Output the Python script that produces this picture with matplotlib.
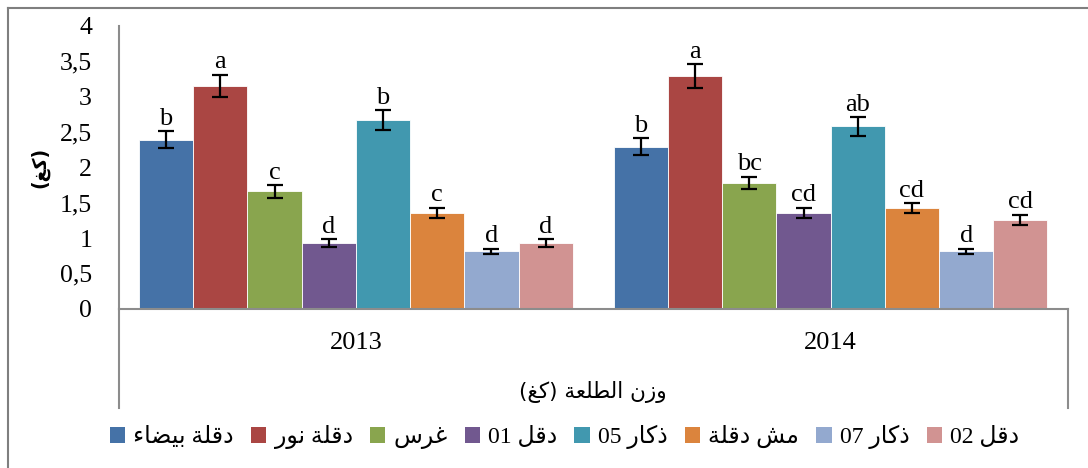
import re
import numpy as np
import matplotlib
matplotlib.use("Agg")
import matplotlib.pyplot as plt
from matplotlib.patches import Patch
from matplotlib.lines import Line2D

# ---------------- data ----------------
years = ["2013", "2014"]
varieties = ["دقلة بيضاء", "دقلة نور", "غرس", "دقل 01", "ذكار 05", "مش دقلة", "ذكار 07", "دقل 02"]
colors = ["#4572A7", "#AA4643", "#89A54E", "#71588F", "#4198AF", "#DB843D", "#93A9CF", "#D19392"]

vals_2013 = [2.39, 3.15, 1.66, 0.93, 2.67, 1.36, 0.81, 0.93]
vals_2014 = [2.29, 3.29, 1.78, 1.36, 2.58, 1.42, 0.81, 1.26]
err_2013 = [0.12, 0.16, 0.09, 0.05, 0.14, 0.07, 0.04, 0.05]
err_2014 = [0.12, 0.17, 0.09, 0.07, 0.13, 0.07, 0.04, 0.07]
letters_2013 = ["b", "a", "c", "d", "b", "c", "d", "d"]
letters_2014 = ["b", "a", "bc", "cd", "ab", "cd", "d", "cd"]

y_ticks = [0, 0.5, 1, 1.5, 2, 2.5, 3, 3.5, 4]
x_title = "وزن الطلعة (كغ)"
y_title = "(كغ)"

# ---------------- Arabic shaping (presentation forms + RTL order) ----------------
FORMS = {
    '\u0621': ('\uFE80', None, None, None),
    '\u0627': ('\uFE8D', '\uFE8E', None, None),
    '\u0628': ('\uFE8F', '\uFE90', '\uFE91', '\uFE92'),
    '\u0629': ('\uFE93', '\uFE94', None, None),
    '\u062F': ('\uFEA9', '\uFEAA', None, None),
    '\u0630': ('\uFEAB', '\uFEAC', None, None),
    '\u0631': ('\uFEAD', '\uFEAE', None, None),
    '\u0632': ('\uFEAF', '\uFEB0', None, None),
    '\u0633': ('\uFEB1', '\uFEB2', '\uFEB3', '\uFEB4'),
    '\u0634': ('\uFEB5', '\uFEB6', '\uFEB7', '\uFEB8'),
    '\u0636': ('\uFEBD', '\uFEBE', '\uFEBF', '\uFEC0'),
    '\u0637': ('\uFEC1', '\uFEC2', '\uFEC3', '\uFEC4'),
    '\u0639': ('\uFEC9', '\uFECA', '\uFECB', '\uFECC'),
    '\u063A': ('\uFECD', '\uFECE', '\uFECF', '\uFED0'),
    '\u0642': ('\uFED5', '\uFED6', '\uFED7', '\uFED8'),
    '\u0643': ('\uFED9', '\uFEDA', '\uFEDB', '\uFEDC'),
    '\u0644': ('\uFEDD', '\uFEDE', '\uFEDF', '\uFEE0'),
    '\u0645': ('\uFEE1', '\uFEE2', '\uFEE3', '\uFEE4'),
    '\u0646': ('\uFEE5', '\uFEE6', '\uFEE7', '\uFEE8'),
    '\u0648': ('\uFEED', '\uFEEE', None, None),
    '\u064A': ('\uFEF1', '\uFEF2', '\uFEF3', '\uFEF4'),
}
MIRROR = str.maketrans("()", ")(")


def _dual(c):
    return c in FORMS and FORMS[c][2] is not None


def _joins(c):
    return c in FORMS and FORMS[c][1] is not None


def shape(s):
    out = []
    for i, c in enumerate(s):
        if c not in FORMS:
            out.append(c)
            continue
        prev = s[i - 1] if i > 0 else ''
        nxt = s[i + 1] if i + 1 < len(s) else ''
        p = _dual(prev) and _joins(c)
        n = _dual(c) and _joins(nxt)
        f = FORMS[c]
        if p and n:
            g = f[3]
        elif p:
            g = f[1]
        elif n:
            g = f[2]
        else:
            g = f[0]
        out.append(g)
    return ''.join(out)


def ar(s):
    shaped = shape(s)
    runs = re.findall(r'\d+|\D+', shaped)
    out = []
    for r in reversed(runs):
        if r.isdigit():
            out.append(r)
        else:
            out.append(r[::-1].translate(MIRROR))
    return ''.join(out)


# ---------------- figure ----------------
W, H = 1088, 468
fig = plt.figure(figsize=(W / 100, H / 100), dpi=100)
serif = ['Liberation Serif', 'DejaVu Sans']
mixed = ['Liberation Serif', 'DejaVu Sans']

x0, x1 = 118.5, 1068
y0, y4 = 308.7, 26
ax = fig.add_axes([x0 / W, (H - y0) / H, (x1 - x0) / W, (y0 - y4) / H])

grey = '#8c8c8c'
n = len(varieties)
w = 0.1142
xc = np.arange(len(years))
series_vals = np.array([vals_2013, vals_2014]).T
series_err = np.array([err_2013, err_2014]).T
series_let = np.array([letters_2013, letters_2014]).T

for j in range(n):
    xs = xc + (j - (n - 1) / 2) * w
    ax.bar(xs, series_vals[j], w, color=colors[j], edgecolor='white', linewidth=0.6,
           yerr=series_err[j],
           error_kw=dict(ecolor='black', elinewidth=1.6, capsize=6, capthick=1.6),
           zorder=2)
    for k in range(len(years)):
        ax.annotate(series_let[j][k], (xs[k], series_vals[j][k] + series_err[j][k]),
                    xytext=(0, 1.0), textcoords='offset points', ha='center', va='bottom',
                    fontsize=19, family=serif, color='black')

ax.set_xlim(-0.5, 1.5)
ax.set_ylim(0, 4)
ax.set_yticks(y_ticks)
ax.set_yticklabels([f"{v:g}".replace('.', ',') for v in y_ticks], family=serif, fontsize=18.5)
ax.set_xticks(xc)
ax.set_xticklabels(years, family=serif, fontsize=19)
ax.tick_params(axis='y', length=0, pad=19)
ax.tick_params(axis='x', length=0, pad=17)

for s in ['top', 'right']:
    ax.spines[s].set_visible(False)
for s in ['left', 'bottom']:
    ax.spines[s].set_color(grey)
    ax.spines[s].set_linewidth(1.5)

ext = (407.5 - y0) / (y0 - y4)
ax.plot([0, 0], [0, -ext], transform=ax.transAxes, color=grey, lw=1.5, clip_on=False)
ax.plot([1, 1], [0, -ext], transform=ax.transAxes, color=grey, lw=1.5, clip_on=False)

# category-axis title (second level)
ax.text(0.5, -(392 - y0) / (y0 - y4), ar(x_title), transform=ax.transAxes,
        ha='center', va='center', fontsize=15.5, family=['DejaVu Sans'])

# y label
fig.text(40 / W, 1 - 167 / H, ar(y_title), rotation=90, ha='center', va='center',
         fontsize=13.5, fontweight='bold', family=['DejaVu Sans'])

# legend
handles = [Patch(facecolor=c, edgecolor='none') for c in colors]
fig.legend(handles, [ar(v) for v in varieties], loc='center',
           bbox_to_anchor=(564.5 / W, 1 - 437 / H), ncol=n, frameon=False,
           prop=dict(family=mixed, size=17), handlelength=0.65, handleheight=0.65,
           handletextpad=0.35, columnspacing=0.72, borderaxespad=0)

# outer frame (partially visible)
fig.add_artist(Line2D([7.5 / W, 1.0], [1 - 7.5 / H, 1 - 7.5 / H], transform=fig.transFigure,
                      color='#7f7f7f', lw=1.5))
fig.add_artist(Line2D([7.5 / W, 7.5 / W], [0, 1 - 7.5 / H], transform=fig.transFigure,
                      color='#7f7f7f', lw=1.5))

fig.savefig('out.png', dpi=100)
